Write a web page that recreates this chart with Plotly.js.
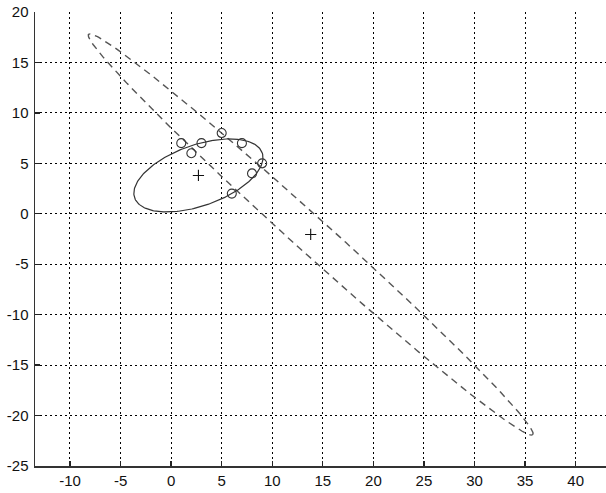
<!DOCTYPE html>
<html>
<head>
<meta charset="utf-8">
<script src="https://cdn.plot.ly/plotly-3.0.1.min.js"></script>
<style>html,body{margin:0;padding:0;background:#fff;}#chart{width:606px;height:493px;}</style>
</head>
<body>
<div id="chart"></div>
<script>
// Observed sample points (circles)
const pointsX = [1, 3, 5, 7, 2, 9, 8, 6];
const pointsY = [7, 7, 8, 7, 6, 5, 4, 2];

// Ellipse parameters: centre, semi-axes, orientation (deg)
const ellipseNames   = ['solid', 'dashed'];
const ellipseCenterX = [2.7, 13.8];
const ellipseCenterY = [3.8, -2.05];
const ellipseSemiA   = [6.69, 29.6];
const ellipseSemiB   = [3.02, 1.75];
const ellipseAngle   = [19.5, -42.1];

// Axis ticks
const xTicks = [-10, -5, 0, 5, 10, 15, 20, 25, 30, 35, 40];
const yTicks = [-25, -20, -15, -10, -5, 0, 5, 10, 15, 20];

function ellipseCurve(i) {
  const xs = [], ys = [];
  const th = ellipseAngle[i] * Math.PI / 180;
  const c = Math.cos(th), s = Math.sin(th);
  const n = 240;
  for (let k = 0; k <= n; k++) {
    const t = 2 * Math.PI * k / n;
    const u = ellipseSemiA[i] * Math.cos(t), v = ellipseSemiB[i] * Math.sin(t);
    xs.push(ellipseCenterX[i] + u * c - v * s);
    ys.push(ellipseCenterY[i] + u * s + v * c);
  }
  return {xs, ys};
}

const e0 = ellipseCurve(0), e1 = ellipseCurve(1);

const traces = [
  {x: e1.xs, y: e1.ys, mode: 'lines', line: {color: '#555', width: 1.4, dash: '7px,5px'}, hoverinfo: 'skip'},
  {x: e0.xs, y: e0.ys, mode: 'lines', line: {color: '#333', width: 1.2}, hoverinfo: 'skip'},
  {x: pointsX, y: pointsY, mode: 'markers',
   marker: {symbol: 'circle-open', size: 9, color: '#333', line: {width: 1.1, color: '#333'}}},
  {x: ellipseCenterX, y: ellipseCenterY, mode: 'markers',
   marker: {symbol: 'cross-thin', size: 8, color: '#111', line: {width: 1.1, color: '#111'}}}
];

const tickFont = {family: 'Liberation Sans, Arial, sans-serif', size: 15, color: '#111'};

const layout = {
  width: 606, height: 493,
  margin: {l: 35, r: 0, t: 12, b: 27, pad: 0},
  paper_bgcolor: '#fff', plot_bgcolor: '#fff',
  showlegend: false,
  xaxis: {
    range: [-13.46, 43.0], tickvals: xTicks, ticktext: xTicks.map(String),
    showgrid: true, gridcolor: '#000', gridwidth: 1, griddash: '2px,3px',
    zeroline: false, showline: true, linecolor: '#333', linewidth: 1.5,
    ticks: 'inside', ticklen: 5, tickwidth: 1.3, tickcolor: '#222',
    tickfont: tickFont, fixedrange: true
  },
  yaxis: {
    range: [-25, 20], tickvals: yTicks, ticktext: yTicks.map(String),
    showgrid: true, gridcolor: '#000', gridwidth: 1, griddash: '2px,3px',
    zeroline: false, showline: true, linecolor: '#333', linewidth: 1.5,
    ticks: 'inside', ticklen: 5, tickwidth: 1.3, tickcolor: '#222',
    tickfont: tickFont, fixedrange: true, ticklabelstandoff: 2
  }
};

Plotly.newPlot('chart', traces, layout, {staticPlot: true});
</script>
</body>
</html>
